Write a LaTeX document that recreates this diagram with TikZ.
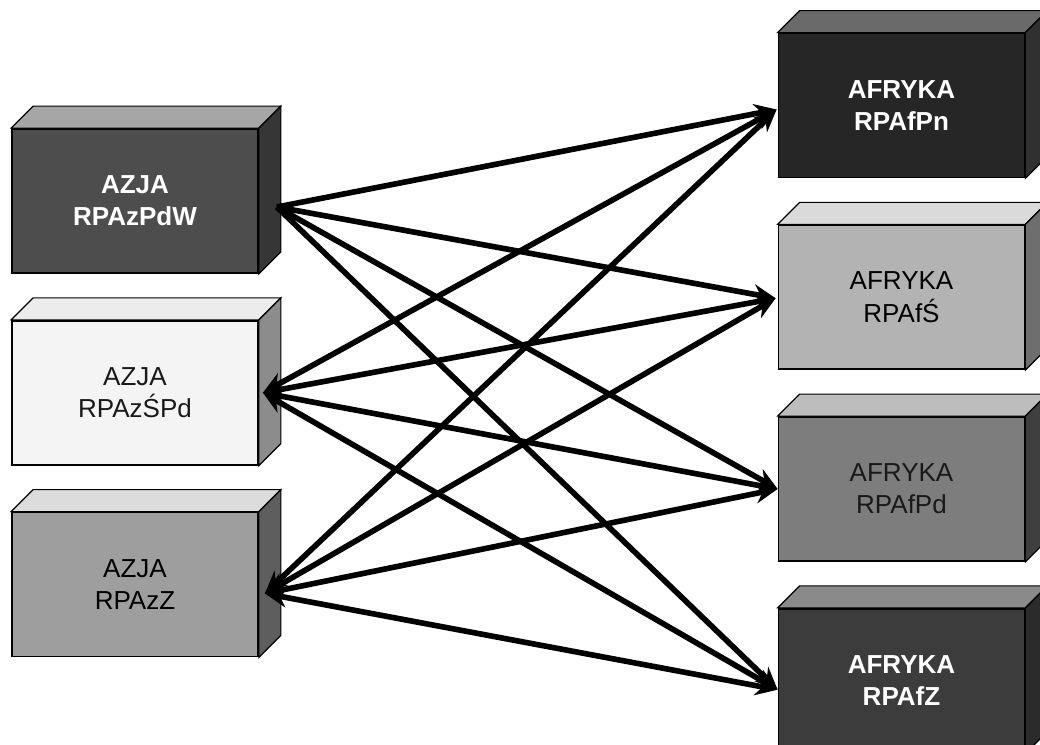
\documentclass[tikz,border=0pt]{standalone}
\usepackage{fontspec}
\setmainfont{Liberation Sans}
\usetikzlibrary{arrows.meta, positioning, calc}
\definecolor{pdwfront}{HTML}{4D4D4D}
\definecolor{pdwtop}{HTML}{A6A6A6}
\definecolor{pdwside}{HTML}{363636}
\definecolor{spdfront}{HTML}{F4F4F4}
\definecolor{spdtop}{HTML}{ECECEC}
\definecolor{spdside}{HTML}{8C8C8C}
\definecolor{zfront}{HTML}{9E9E9E}
\definecolor{ztop}{HTML}{DCDCDC}
\definecolor{zside}{HTML}{5E5E5E}
\definecolor{pnfront}{HTML}{262626}
\definecolor{pntop}{HTML}{6A6A6A}
\definecolor{pnside}{HTML}{303030}
\definecolor{sfront}{HTML}{B3B3B3}
\definecolor{stop}{HTML}{DADADA}
\definecolor{sside}{HTML}{6E6E6E}
\definecolor{pdfront}{HTML}{7D7D7D}
\definecolor{pdtop}{HTML}{BDBDBD}
\definecolor{pdside}{HTML}{3F3F3F}
\definecolor{afzfront}{HTML}{3C3C3C}
\definecolor{afztop}{HTML}{8A8A8A}
\definecolor{afzside}{HTML}{2B2B2B}

% top and right face of a box node
\newcommand{\cuboidfaces}[3]{%
  \filldraw[fill=#2, line width=0.8pt] (#1.north west) -- ([shift={(22,-22)}]#1.north west)
    -- ([shift={(22,-22)}]#1.north east) -- (#1.north east) -- cycle;
  \filldraw[fill=#3, line width=0.8pt] (#1.north east) -- ([shift={(22,-22)}]#1.north east)
    -- ([shift={(22,-22)}]#1.south east) -- (#1.south east) -- cycle;
}

\begin{document}
\begin{tikzpicture}[
        x=0.025cm, y=-0.025cm,
        node distance=1.15cm,
        box/.style={rectangle, draw=black, line width=1.2pt, minimum width=6.15cm, minimum height=3.6cm, align=center, text=black!90, font=\fontsize{18.5}{23}\selectfont},
        darkbox/.style={box, text=white, font=\fontsize{18.5}{23}\selectfont\bfseries},
        arrow/.style={-{Stealth[length=16pt, width=14pt]}, line width=4pt},
        twoway/.style={{Stealth[length=16pt, width=14pt]}-{Stealth[length=16pt, width=14pt]}, line width=4pt}
    ]
    \useasboundingbox (0,0) rectangle (1040,744);
    \clip (0,0) rectangle (1040,744);

    % Azja
    \node[darkbox, fill=pdwfront] (azpdw) at (135,201) {AZJA\\RPAzPdW};
    \node[box, fill=spdfront, below=of azpdw] (azspd) {AZJA\\RPAzŚPd};
    \node[box, fill=zfront, text=black, below=of azspd] (azz) {AZJA\\RPAzZ};

    % Afryka
    \node[darkbox, fill=pnfront] (afpn) at (901.5,105.5) {AFRYKA\\RPAfPn};
    \node[box, fill=sfront, text=black, below=of afpn] (afs) {AFRYKA\\RPAfŚ};
    \node[box, fill=pdfront, below=of afs] (afpd) {AFRYKA\\RPAfPd};
    \node[darkbox, fill=afzfront, below=of afpd] (afz) {AFRYKA\\RPAfZ};

    \cuboidfaces{azpdw}{pdwtop}{pdwside}
    \cuboidfaces{azspd}{spdtop}{spdside}
    \cuboidfaces{azz}{ztop}{zside}
    \cuboidfaces{afpn}{pntop}{pnside}
    \cuboidfaces{afs}{stop}{sside}
    \cuboidfaces{afpd}{pdtop}{pdside}
    \cuboidfaces{afz}{afztop}{afzside}

    \coordinate (azpdw-out) at ($(azpdw.east)+(18,6)$);
    \coordinate (azspd-in) at ($(azspd.east)+(4,0)$);
    \coordinate (azz-in) at ($(azz.east)+(6,9)$);
    \coordinate (afpn-in) at ($(afpn.west)+(-1,4)$);
    \coordinate (afs-in) at ($(afs.west)+(-2,1)$);
    \coordinate (afpd-in) at ($(afpd.west)+(0,0)$);
    \coordinate (afz-in) at ($(afz.west)+(0,9)$);

    \draw[arrow] (azpdw-out) -- (afpn-in);
    \draw[arrow] (azpdw-out) -- (afs-in);
    \draw[arrow] (azpdw-out) -- (afpd-in);
    \draw[arrow] (azpdw-out) -- (afz-in);

    \draw[twoway] (azspd-in) -- (afpn-in);
    \draw[twoway] (azspd-in) -- (afs-in);
    \draw[twoway] (azspd-in) -- (afpd-in);
    \draw[twoway] (azspd-in) -- (afz-in);

    \draw[twoway] (azz-in) -- (afpn-in);
    \draw[twoway] (azz-in) -- (afs-in);
    \draw[twoway] (azz-in) -- (afpd-in);
    \draw[twoway] (azz-in) -- (afz-in);

\end{tikzpicture}
\end{document}
